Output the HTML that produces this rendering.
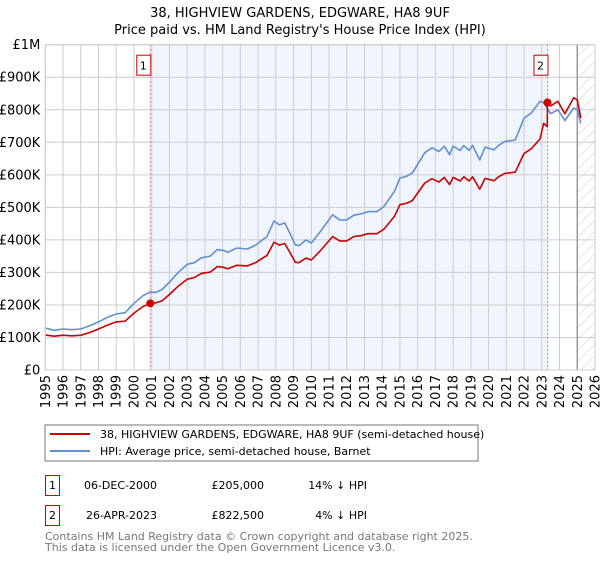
<!DOCTYPE html>
<html><head><meta charset="utf-8"><style>
body{margin:0;background:#fff;}
svg text{font-family:"DejaVu Sans","Liberation Sans",sans-serif;}
</style></head><body>
<svg id="chart" width="600" height="560" viewBox="0 0 600 560" xmlns="http://www.w3.org/2000/svg">
<defs>
<pattern id="hatch" patternUnits="userSpaceOnUse" width="8" height="8" patternTransform="rotate(45)">
<line x1="0" y1="0" x2="0" y2="8" stroke="#ccc" stroke-width="1"/>
</pattern>
</defs>
<text x="300" y="17" text-anchor="middle" font-size="13" fill="#000">38, HIGHVIEW GARDENS, EDGWARE, HA8 9UF</text>
<text x="300" y="34" text-anchor="middle" font-size="13" fill="#000">Price paid vs. HM Land Registry's House Price Index (HPI)</text>
<g id="plot"></g>
<g>
<rect x="45" y="425" width="433" height="36" fill="#fff" stroke="#777" stroke-width="1"/>
<line x1="50" y1="434" x2="90" y2="434" stroke="#cc0000" stroke-width="2"/>
<text x="100" y="438" font-size="11" fill="#000">38, HIGHVIEW GARDENS, EDGWARE, HA8 9UF (semi-detached house)</text>
<line x1="50" y1="451" x2="90" y2="451" stroke="#6090d0" stroke-width="2"/>
<text x="100" y="455" font-size="11" fill="#000">HPI: Average price, semi-detached house, Barnet</text>
</g>
<g font-size="11" fill="#000">
<rect x="45.5" y="475.5" width="14" height="20" fill="none" stroke="#cc0000"/>
<text x="52.5" y="489" text-anchor="middle">1</text>
<text x="157" y="489" text-anchor="end">06-DEC-2000</text>
<text x="264" y="489" text-anchor="end">£205,000</text>
<text x="367" y="489" text-anchor="end">14% ↓ HPI</text>
<rect x="45.5" y="505.5" width="14" height="20" fill="none" stroke="#cc0000"/>
<text x="52.5" y="519" text-anchor="middle">2</text>
<text x="157" y="519" text-anchor="end">26-APR-2023</text>
<text x="264" y="519" text-anchor="end">£822,500</text>
<text x="367" y="519" text-anchor="end">4% ↓ HPI</text>
</g>
<text x="45" y="540" font-size="11" fill="#777">Contains HM Land Registry data © Crown copyright and database right 2025.</text>
<text x="45" y="551" font-size="11" fill="#777">This data is licensed under the Open Government Licence v3.0.</text>
</svg>
<script>
const hpiYears=[1995.0,1995.5,1996.0,1996.5,1997.0,1997.5,1998.0,1998.5,1999.0,1999.5,2000.0,2000.5,2000.92,2001.2,2001.6,2002.0,2002.5,2003.0,2003.4,2003.8,2004.3,2004.7,2005.0,2005.3,2005.8,2006.4,2006.9,2007.2,2007.5,2007.9,2008.2,2008.5,2008.8,2009.1,2009.3,2009.7,2010.0,2010.5,2011.2,2011.6,2012.0,2012.4,2012.8,2013.2,2013.7,2014.1,2014.7,2015.0,2015.4,2015.7,2016.4,2016.8,2017.2,2017.5,2017.8,2018.0,2018.4,2018.6,2018.9,2019.1,2019.5,2019.8,2020.3,2020.6,2020.9,2021.5,2022.0,2022.4,2022.9,2023.1,2023.5,2023.9,2024.3,2024.8,2025.0,2025.2];
const hpiValues=[129,122,126,124,126,136,148,162,172,176,205,228,240,238,248,270,300,325,330,345,350,370,368,362,375,372,385,398,410,458,446,452,420,385,382,400,390,425,477,461,461,476,480,487,487,503,550,590,596,606,668,683,672,688,662,688,675,690,675,690,646,685,677,692,702,707,774,790,826,822,788,800,767,805,800,758];
const priceYears=[1995.0,1995.5,1996.0,1996.5,1997.0,1997.5,1998.0,1998.5,1999.0,1999.5,2000.0,2000.5,2000.92,2001.2,2001.6,2002.0,2002.5,2003.0,2003.4,2003.8,2004.3,2004.7,2005.0,2005.3,2005.8,2006.4,2006.9,2007.2,2007.5,2007.9,2008.2,2008.5,2008.8,2009.1,2009.3,2009.7,2010.0,2010.5,2011.2,2011.6,2012.0,2012.4,2012.8,2013.2,2013.7,2014.1,2014.7,2015.0,2015.4,2015.7,2016.4,2016.8,2017.2,2017.5,2017.8,2018.0,2018.4,2018.6,2018.9,2019.1,2019.5,2019.8,2020.3,2020.6,2020.9,2021.5,2022.0,2022.4,2022.9,2023.1,2023.31,2023.32,2023.5,2023.9,2024.3,2024.8,2025.0,2025.2];
const priceValues=[108,104,107,105,107,115,126,138,148,150,175,195,205,206,213,232,258,279,284,297,301,318,316,311,322,320,331,342,352,393,384,389,361,331,330,344,338,366,410,397,397,410,413,419,419,433,473,508,513,521,575,588,578,592,570,592,581,594,581,594,556,589,582,595,604,608,666,680,710,758,748,822.5,812,826,788,837,830,774];
const saleYears=[2000.92,2023.32];
const saleValues=[205,822.5];
const saleLabels=["1","2"];
const yTicks=[0,100,200,300,400,500,600,700,800,900,1000];
const yTickLabels=["£0","£100K","£200K","£300K","£400K","£500K","£600K","£700K","£800K","£900K","£1M"];
const xTicks=[1995,1996,1997,1998,1999,2000,2001,2002,2003,2004,2005,2006,2007,2008,2009,2010,2011,2012,2013,2014,2015,2016,2017,2018,2019,2020,2021,2022,2023,2024,2025,2026];

const L=45.3,R=595,T=44.7,B=370,X0=1995,X1=2026,YMAX=1000;
const x=v=>L+(v-X0)/(X1-X0)*(R-L);
const y=v=>B-v/YMAX*(B-T);
const NS="http://www.w3.org/2000/svg";
const g=document.getElementById('plot');
function mk(tag,attrs){const e=document.createElementNS(NS,tag);for(const k in attrs)e.setAttribute(k,attrs[k]);g.appendChild(e);return e;}

let e=mk('rect',{x:L,y:T,width:R-L,height:B-T,fill:'#fff'});


e=mk('rect',{x:x(saleYears[0]),y:T,width:x(saleYears[1])-x(saleYears[0]),height:B-T,fill:'#f0f4fd'});


e=mk('rect',{x:x(2025.05),y:T,width:R-x(2025.05),height:B-T,fill:'url(#hatch)'});



yTicks.forEach((t,i)=>{
  const l=mk('line',{x1:L,x2:R,y1:y(t),y2:y(t),stroke:'#ccc','stroke-width':1});
  
  
  const tx=mk('text',{x:L-5,y:y(t)+4.5,'text-anchor':'end','font-size':13,fill:'#000'});
  tx.textContent=yTickLabels[i];
  
  
});
xTicks.forEach(t=>{
  const l=mk('line',{x1:x(t),x2:x(t),y1:T,y2:B,stroke:'#ccc','stroke-width':1});
  
  
  const tx=mk('text',{transform:`translate(${x(t)+4.5},${B+5}) rotate(-90)`,'text-anchor':'end','font-size':13,fill:'#000'});
  tx.textContent=String(t);
  
  
});
e=mk('line',{x1:x(2025.0),x2:x(2025.0),y1:T,y2:B,stroke:'#999','stroke-width':1.5});



saleYears.forEach((s,i)=>{
  const l=mk('line',{x1:x(s),x2:x(s),y1:T,y2:B,stroke:'#e77','stroke-width':1,'stroke-dasharray':'2,2'});
  
  
});

function pts(xs,vs){return xs.map((v,i)=>x(v).toFixed(1)+','+y(vs[i]).toFixed(1)).join(' ');}
e=mk('polyline',{points:pts(hpiYears,hpiValues),fill:'none',stroke:'#6090d0','stroke-width':1.6,'stroke-linejoin':'round'});


e=mk('polyline',{points:pts(priceYears,priceValues),fill:'none',stroke:'#cc0000','stroke-width':1.6,'stroke-linejoin':'round'});



saleYears.forEach((s,i)=>{
  const c=mk('circle',{cx:x(s),cy:y(saleValues[i]),r:4,fill:'#cc0000'});
  
  
  const bx=x(s)-10;
  const r=mk('rect',{x:bx+0.5-4,y:T+10.5,width:14,height:20,fill:'#fff',stroke:'#cc0000'});
  
  
  const tx=mk('text',{x:bx+3,y:T+25,'text-anchor':'middle','font-size':11,fill:'#000'});
  tx.textContent=saleLabels[i];
  
  
});
e=mk('rect',{x:L,y:T,width:R-L,height:B-T,fill:'none',stroke:'#ccc'});


</script>
</body></html>
